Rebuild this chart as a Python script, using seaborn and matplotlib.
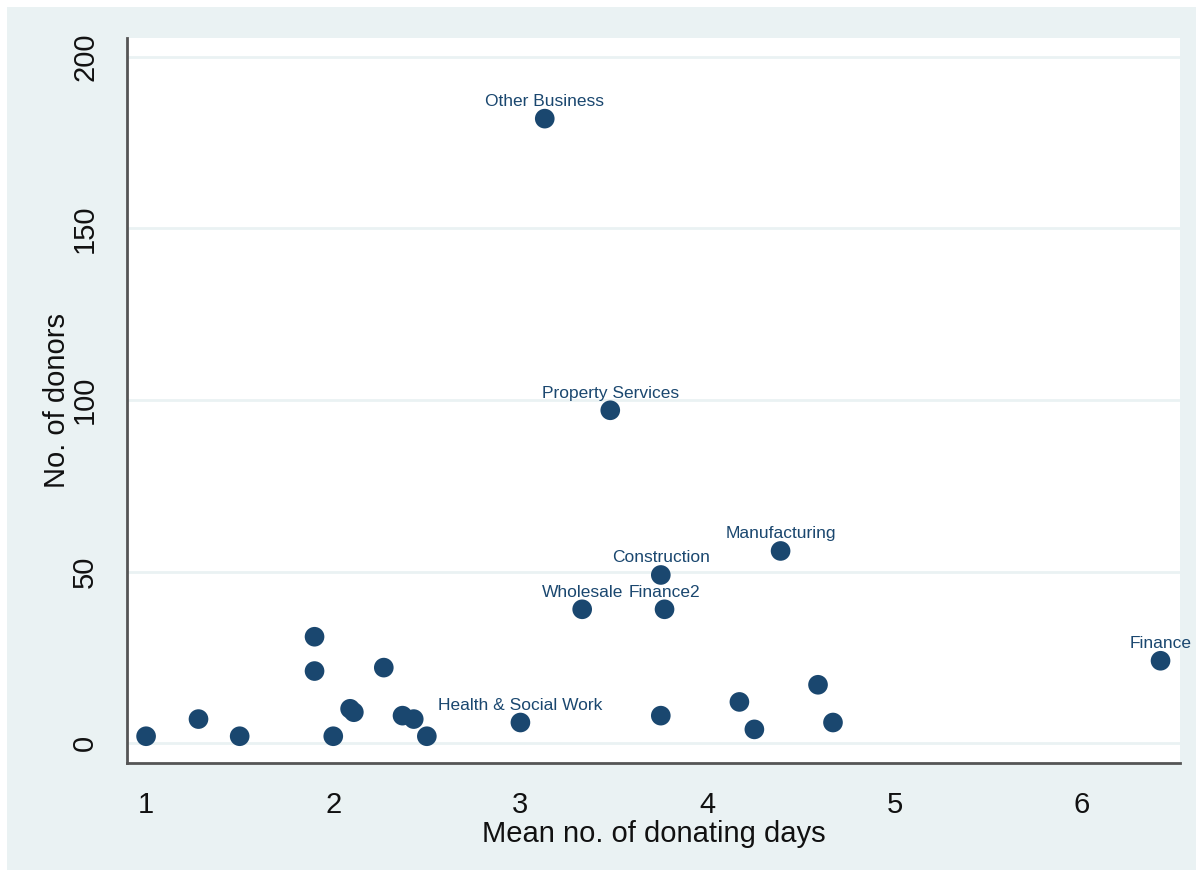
import numpy as np
import pandas as pd
import seaborn as sns
import matplotlib.pyplot as plt
from matplotlib.patches import Rectangle

# Data
mean_days = [1.00, 1.28, 1.50, 1.90, 1.90, 2.00, 2.09, 2.11, 2.27, 2.37, 2.43, 2.50,
             3.00, 3.13, 3.33, 3.48, 3.75, 3.75, 3.77, 4.17, 4.25, 4.39, 4.59, 4.67, 6.42]
n_donors = [2, 7, 2, 31, 21, 2, 10, 9, 22, 8, 7, 2,
            6, 182, 39, 97, 49, 8, 39, 12, 4, 56, 17, 6, 24]
sector = ["", "", "", "", "", "", "", "", "", "", "", "",
          "Health & Social Work", "Other Business", "Wholesale", "Property Services",
          "Construction", "", "Finance2", "", "", "Manufacturing", "", "", "Finance"]

x_ticks = [1, 2, 3, 4, 5, 6]
y_ticks = [0, 50, 100, 150, 200]

df = pd.DataFrame({"days": mean_days, "donors": n_donors, "sector": sector})

# Stata s2color look
navy = "#1a476f"
bg = "#eaf2f3"
ink = "#111111"

sns.set_style("white")
plt.rcParams['font.family'] = ['Liberation Sans', 'DejaVu Sans']

fig = plt.figure(figsize=(12.03, 8.77), dpi=100, facecolor="white")
fig.patches.append(Rectangle((7 / 1203, 7 / 877), 1189 / 1203, 863 / 877,
                             transform=fig.transFigure, facecolor=bg,
                             edgecolor="none", zorder=-10))
ax = fig.add_axes([127 / 1203, 1 - 763 / 877, 1053 / 1203, 725 / 877])
ax.set_facecolor("white")

# Gridlines
for yv in y_ticks:
    ax.axhline(yv, color=bg, lw=2, zorder=0)

sns.scatterplot(data=df, x="days", y="donors", color=navy, s=200,
                edgecolor="none", ax=ax, zorder=3)

for _, row in df.iterrows():
    if row["sector"]:
        ax.annotate(row["sector"], (row["days"], row["donors"]),
                    xytext=(0, 7), textcoords="offset points",
                    ha="center", va="bottom", fontsize=12.5, color=navy)

ax.set_xlim(0.898, 6.524)
ax.set_ylim(-5.8, 205.5)
ax.set_xticks(x_ticks)
ax.set_yticks(y_ticks)
ax.set_xlabel("Mean no. of donating days", fontsize=21, labelpad=1, color=ink)
ax.set_ylabel("No. of donors", fontsize=21, labelpad=0, color=ink)
ax.tick_params(axis="both", direction="out", length=10, width=2, color="#555555",
               labelsize=21, pad=10, labelcolor=ink)
plt.setp(ax.get_yticklabels(), rotation=90, va="center")

for side in ["top", "right"]:
    ax.spines[side].set_visible(False)
for side in ["left", "bottom"]:
    ax.spines[side].set_color("#555555")
    ax.spines[side].set_linewidth(2)

fig.savefig("out.png", dpi=100, facecolor="white")
